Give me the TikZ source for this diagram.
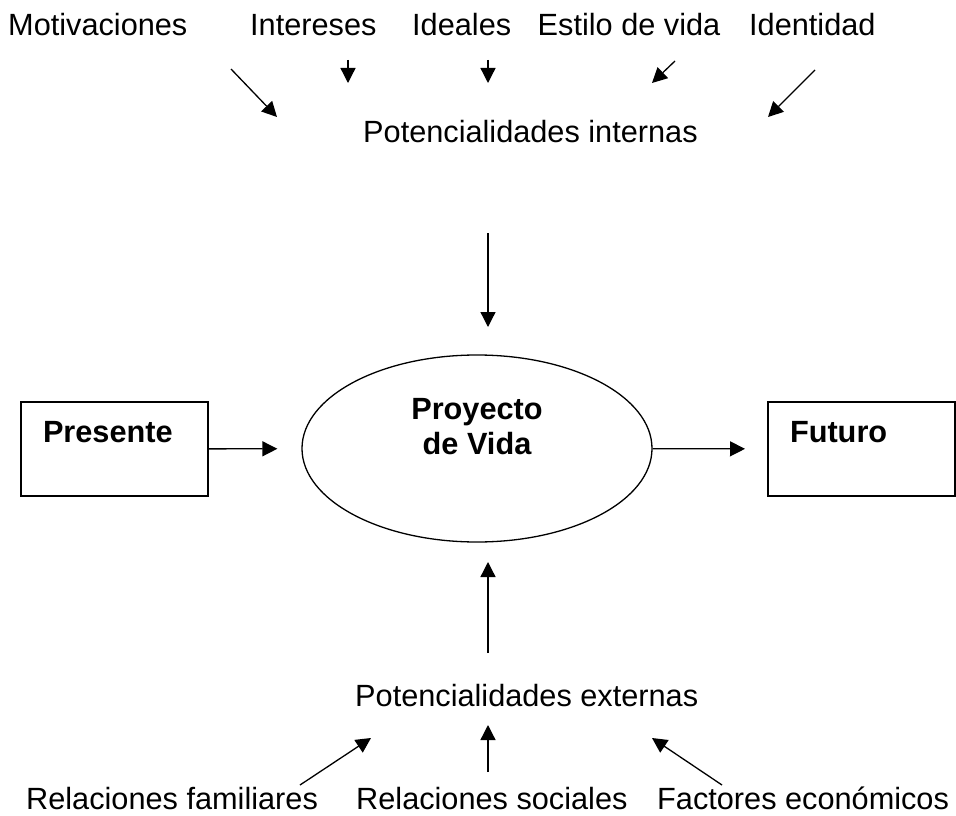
\documentclass[tikz,border=0pt]{standalone}
\usepackage{fontspec}
\setmainfont{Liberation Sans}
\usepackage{tikz}
\usetikzlibrary{arrows.meta}
\usetikzlibrary{shapes.geometric}
\tikzset{
	letra/.style={font=\fontsize{30.7}{35}\selectfont},
	texto/.style={letra, anchor=base west, inner sep=0pt},
	negrita/.style={font=\fontsize{30.7}{35}\selectfont\bfseries},
	caja/.style={draw, line width=1.5pt, anchor=north west, outer sep=0pt, negrita, align=left, text width=143pt, inner xsep=22pt, inner ysep=18pt, text height=22pt, text depth=36pt},
	flecha/.style={line width=1.3pt, -{Triangle[length=15pt,width=15pt]}},
}

\begin{document}
\begin{tikzpicture}[x=1pt,y=-1pt]
		\useasboundingbox (0,0) rectangle (956,816);
		% potencialidades internas
		\node[texto] (motiv) at (8,35.5) {Motivaciones};
		\node[texto] (inter) at (250,35.5) {Intereses};
		\node[texto] (ideal) at (412,35.5) {Ideales};
		\node[texto] (estilo) at (537.5,35.5) {Estilo de vida};
		\node[texto] (ident) at (749,35.5) {Identidad};
		\node[texto] (internas) at (363,142) {Potencialidades internas};
		% centro
		\node[caja] (presente) at (21,402) {Presente};
		\node[caja] (futuro) at (768,402) {Futuro};
		\node[draw, ellipse, line width=1.3pt, inner sep=0pt, minimum width=350pt, minimum height=187pt,
			label={[negrita, align=center, yshift=22pt]center:Proyecto\\de Vida}] (proyecto) at (477,448.5) {};
		% potencialidades externas
		\node[texto] (externas) at (355,706) {Potencialidades externas};
		\node[texto] (familiares) at (26,809) {Relaciones familiares};
		\node[texto] (sociales) at (356,809) {Relaciones sociales};
		\node[texto] (factores) at (657,809) {Factores económicos};
		\coordinate (motiv-a) at (231,69);   \coordinate (motiv-b) at (277,117);
		\coordinate (inter-a) at (348,60);   \coordinate (inter-b) at (348,83);
		\coordinate (ideal-a) at (488,60);   \coordinate (ideal-b) at (488,83);
		\coordinate (estilo-a) at (675,61);  \coordinate (estilo-b) at (652,83);
		\coordinate (ident-a) at (815,70);   \coordinate (ident-b) at (768,117);
		\coordinate (internas-a) at (488,233);   \coordinate (internas-b) at (488,327);
		\coordinate (externas-a) at (488,653);   \coordinate (externas-b) at (488,562);
		\coordinate (familiares-a) at (300,785); \coordinate (familiares-b) at (371,738);
		\coordinate (sociales-a) at (488,772);   \coordinate (sociales-b) at (488,725);
		\coordinate (factores-a) at (722,785);   \coordinate (factores-b) at (652,738);
		\foreach \n in {motiv,inter,ideal,estilo,ident,internas,externas,familiares,sociales,factores}
			\draw[flecha] (\n-a) -- (\n-b);
		\draw[flecha, shorten >=24pt] (presente) -- (proyecto);
		\draw[flecha, shorten >=23pt] (proyecto) -- (futuro);
\end{tikzpicture}
\end{document}
